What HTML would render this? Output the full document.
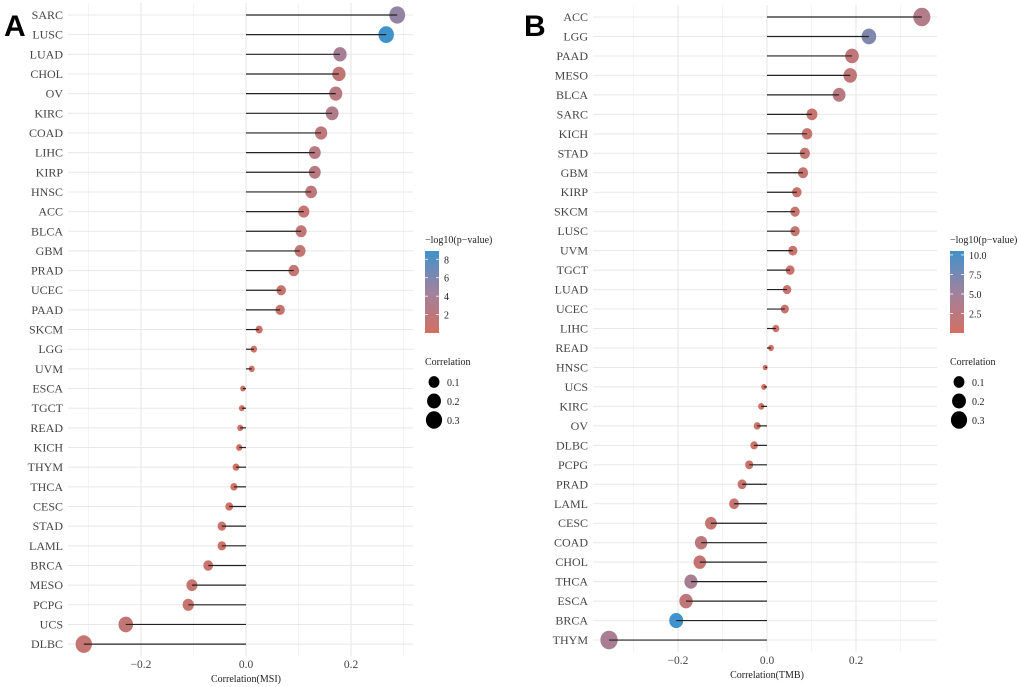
<!DOCTYPE html>
<html><head><meta charset="utf-8">
<style>
html,body{margin:0;padding:0;background:#fff;}
svg{display:block;font-family:"Liberation Serif",serif;}
</style></head>
<body>
<svg id="chart" width="1020" height="687" viewBox="0 0 1020 687">
<text x="4" y="36" font-family="Liberation Sans,sans-serif" font-weight="bold" font-size="30" fill="#000">A</text>
<text x="524" y="36" font-family="Liberation Sans,sans-serif" font-weight="bold" font-size="30" fill="#000">B</text>
</svg>
<script>
const catsA=["SARC","LUSC","LUAD","CHOL","OV","KIRC","COAD","LIHC","KIRP","HNSC","ACC","BLCA","GBM","PRAD","UCEC","PAAD","SKCM","LGG","UVM","ESCA","TGCT","READ","KICH","THYM","THCA","CESC","STAD","LAML","BRCA","MESO","PCPG","UCS","DLBC"];
const corrA=[0.288,0.267,0.179,0.177,0.171,0.164,0.143,0.131,0.131,0.124,0.110,0.105,0.103,0.091,0.067,0.065,0.025,0.015,0.011,-0.006,-0.008,-0.011,-0.013,-0.019,-0.023,-0.032,-0.046,-0.046,-0.072,-0.103,-0.110,-0.229,-0.309];
const pA=[5.0,8.9,3.8,1.5,2.4,3.0,1.8,2.4,2.4,1.8,1.2,1.4,1.4,1.2,1.0,1.0,0.5,0.4,0.3,0.2,0.2,0.2,0.2,0.3,0.3,0.4,0.6,0.5,0.8,1.0,1.0,1.5,1.2];
const ticksA=[-0.2,0.0,0.2];
const catsB=["ACC","LGG","PAAD","MESO","BLCA","SARC","KICH","STAD","GBM","KIRP","SKCM","LUSC","UVM","TGCT","LUAD","UCEC","LIHC","READ","HNSC","UCS","KIRC","OV","DLBC","PCPG","PRAD","LAML","CESC","COAD","CHOL","THCA","ESCA","BRCA","THYM"];
const corrB=[0.348,0.229,0.191,0.187,0.162,0.101,0.090,0.085,0.081,0.067,0.063,0.063,0.058,0.052,0.045,0.040,0.020,0.009,-0.004,-0.007,-0.013,-0.022,-0.029,-0.040,-0.056,-0.074,-0.126,-0.148,-0.151,-0.171,-0.182,-0.204,-0.355];
const pB=[3.4,7.0,1.8,1.8,2.6,1.2,1.2,1.4,1.3,0.9,1.0,1.3,0.9,0.9,1.0,1.0,0.5,0.3,0.2,0.2,0.3,0.5,0.4,0.8,1.0,1.2,1.4,2.2,1.5,4.2,1.8,10.5,4.2];
const ticksB=[-0.2,0.0,0.2];

const NS="http://www.w3.org/2000/svg";
const svg=document.getElementById('chart');
function mk(tag,attrs,parent){const e=document.createElementNS(NS,tag);for(const k in attrs)e.setAttribute(k,attrs[k]);(parent||svg).appendChild(e);return e;}
function lerp(a,b,t){return a.map((v,i)=>Math.round(v+(b[i]-v)*t));}
function colorFor(p,max){let t=Math.min(1,Math.max(0,p/max));const lo=[210,112,98],mid=[160,130,158],hi=[64,146,204];const c=t<0.5?lerp(lo,mid,t*2):lerp(mid,hi,(t-0.5)*2);return `rgb(${c})`;}
function radius(c){return 1.8+Math.sqrt(Math.abs(c))*11.5;}

function panel(cfg){
  const g=mk('g',{});
  
  
  const xs=v=>cfg.x0+v*cfg.ppu;
  const ys=i=>cfg.yTop+i*cfg.step;
  for(let v=-0.4;v<=0.4001;v+=0.1){const x=xs(v);if(x<cfg.left-1||x>cfg.right+1)continue;
    const major=Math.abs(Math.round(v*10))%2===0;
    const l=mk('line',{x1:x,x2:x,y1:cfg.yTop-12,y2:ys(cfg.cats.length-1)+12,stroke:major?'#e6e6e6':'#f0f0f0','stroke-width':major?1:0.7},g);
    }
  cfg.cats.forEach((c,i)=>{const l=mk('line',{x1:cfg.left,x2:cfg.right,y1:ys(i),y2:ys(i),stroke:'#e8e8e8','stroke-width':1},g);
    });
  cfg.cats.forEach((c,i)=>{
    const y=ys(i),v=cfg.vals[i];
    const t=mk('text',{x:cfg.left-5,y:y+4,'text-anchor':'end','font-size':12,fill:'#444'},g);t.textContent=c;
    
    const r=radius(v);
    const dot=mk('ellipse',{cx:xs(v),cy:y,rx:r,ry:r*1.08,fill:colorFor(cfg.p[i],cfg.pmax)},g);
    
    const s=mk('line',{x1:xs(0),x2:xs(v),y1:y,y2:y,stroke:'#222','stroke-width':1.2},g);
    
  });
  const by=ys(cfg.cats.length-1);
  cfg.ticks.forEach(v=>{const t=mk('text',{x:xs(v),y:by+24,'text-anchor':'middle','font-size':11.5,fill:'#444'},g);
    t.textContent=(v<0?'\u2212':'')+Math.abs(v).toFixed(1);
    });
  const xt=mk('text',{x:xs(0),y:by+38,'text-anchor':'middle','font-size':10,fill:'#222'},g);xt.textContent=cfg.xtitle;
  
  const L=mk('g',{},g);
  const lx=cfg.legX,ly=cfg.legY;
  const lt=mk('text',{x:lx,y:ly,'font-size':10,fill:'#222'},L);lt.textContent='\u2212log10(p\u2212value)';
  
  const gid='grad'+cfg.name;const defs=mk('defs',{},L);const lg=mk('linearGradient',{id:gid,x1:0,y1:1,x2:0,y2:0},defs);
  [0,0.5,1].forEach(o=>mk('stop',{offset:o,'stop-color':colorFor(o*cfg.pmax,cfg.pmax)},lg));
  const bt=ly+8,bh=82;
  const bar=mk('rect',{x:lx,y:bt,width:14,height:bh,fill:`url(#${gid})`},L);
  
  cfg.legTicks.forEach(v=>{const y=bt+bh-v/cfg.pmax*bh;
    mk('line',{x1:lx,x2:lx+3,y1:y,y2:y,stroke:'#fff','stroke-width':0.8},L);mk('line',{x1:lx+11,x2:lx+14,y1:y,y2:y,stroke:'#fff','stroke-width':0.8},L);
    const t=mk('text',{x:lx+19,y:y+4,'font-size':10,fill:'#222'},L);t.textContent=cfg.legFmt(v);
    });
  const st=mk('text',{x:lx,y:ly+122,'font-size':10,fill:'#222'},L);st.textContent='Correlation';
  
  [0.1,0.2,0.3].forEach((v,i)=>{const y=ly+139+i*19;const r=radius(v);
    const c=mk('ellipse',{cx:lx+9,cy:y,rx:r,ry:r*1.08,fill:'#000'},L);
    const t=mk('text',{x:lx+22,y:y+4,'font-size':10,fill:'#222'},L);t.textContent=v.toFixed(1);
    });
}
panel({name:'msi',cats:catsA,vals:corrA,p:pA,pmax:8.9,ticks:ticksA,x0:246,ppu:525,left:68,right:413,yTop:15,step:19.66,xtitle:'Correlation(MSI)',legX:425,legY:243,legTicks:[2,4,6,8],legFmt:v=>String(v)});
panel({name:'tmb',cats:catsB,vals:corrB,p:pB,pmax:10.5,ticks:ticksB,x0:767,ppu:445,left:593,right:937,yTop:17,step:19.47,xtitle:'Correlation(TMB)',legX:950,legY:243,legTicks:[2.5,5,7.5,10],legFmt:v=>v.toFixed(1)});
</script>
</body></html>
